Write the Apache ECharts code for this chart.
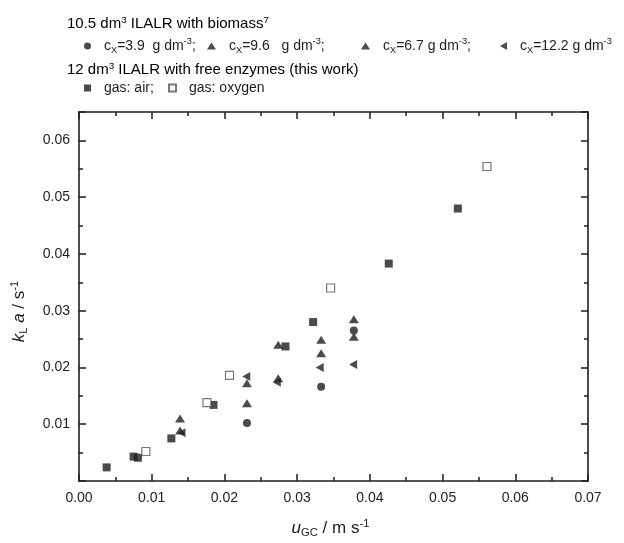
<!DOCTYPE html>
<html>
<head>
<meta charset="utf-8">
<script src="https://cdn.jsdelivr.net/npm/echarts@6/dist/echarts.min.js"></script>
<style>
  html, body { margin: 0; padding: 0; background: #fff; }
  #chart { width: 624px; height: 543px; }
</style>
</head>
<body>
<div id="chart"></div>
<script>
// tick labels
const xTickLabels = ['0.00', '0.01', '0.02', '0.03', '0.04', '0.05', '0.06', '0.07'];
const yTickLabels = ['', '0.01', '0.02', '0.03', '0.04', '0.05', '0.06'];

// 12 dm3 ILALR, free enzymes
const airX = [0.0038, 0.0075, 0.0081, 0.0127, 0.0185, 0.0284, 0.0322, 0.0426, 0.0521];
const airY = [0.0024, 0.0043, 0.0041, 0.0075, 0.0134, 0.0237, 0.0280, 0.0383, 0.0480];
const oxyX = [0.0092, 0.0176, 0.0207, 0.0346, 0.0561];
const oxyY = [0.0052, 0.0138, 0.0186, 0.0340, 0.0554];

// 10.5 dm3 ILALR with biomass
const c39X = [0.0231, 0.0333, 0.0378];
const c39Y = [0.0102, 0.0166, 0.0265];
const c96X = [0.0139, 0.0231, 0.0274, 0.0333, 0.0378];
const c96Y = [0.0110, 0.0172, 0.0240, 0.0249, 0.0285];
const c67X = [0.0139, 0.0231, 0.0274, 0.0333, 0.0378];
const c67Y = [0.0089, 0.0137, 0.0181, 0.0225, 0.0254];
const c122X = [0.0141, 0.0230, 0.0272, 0.0331, 0.0377];
const c122Y = [0.0085, 0.0184, 0.0174, 0.0200, 0.0205];

const pairs = (xs, ys) => xs.map((x, i) => [x, ys[i]]);

const FONT = 'Liberation Sans, Arial, sans-serif';
const INK = '#1e1e1e';
const LEFT_TRI = 'path://M0,5 L9,0 L9,10 Z';

const textRich = (size, lh = 18) => ({
  n: { fontSize: size, fontFamily: FONT, color: INK, lineHeight: lh },
  i: { fontSize: size, fontFamily: FONT, color: INK, fontStyle: 'italic', lineHeight: lh },
  sub: { fontSize: size * 0.66, fontFamily: FONT, color: INK, verticalAlign: 'bottom', lineHeight: lh },
  sup: { fontSize: size * 0.66, fontFamily: FONT, color: INK, verticalAlign: 'top', lineHeight: lh },
});

const legendText = {
  c39: '{n|c}{sub|X}{n|=3.9  g dm}{sup|-3}{n|;}',
  c96: '{n|c}{sub|X}{n|=9.6   g dm}{sup|-3}{n|;}',
  c67: '{n|c}{sub|X}{n|=6.7 g dm}{sup|-3}{n|;}',
  c122: '{n|c}{sub|X}{n|=12.2 g dm}{sup|-3}',
  air: '{n|gas: air;}',
  oxygen: '{n|gas: oxygen}',
};

const legendItems = [
  { name: 'c39', left: 84, top: 37, w: 7, h: 7 },
  { name: 'c96', left: 207, top: 37, w: 9, h: 7 },
  { name: 'c67', left: 361, top: 37, w: 9, h: 7 },
  { name: 'c122', left: 500, top: 37, w: 7, h: 8 },
  { name: 'air', left: 84, top: 81, w: 7, h: 7 },
  { name: 'oxygen', left: 168, top: 81, w: 7, h: 7 },
];

const chart = echarts.init(document.getElementById('chart'));

const axisCommon = {
  min: 0,
  axisLine: { show: true, onZero: false, lineStyle: { color: INK, width: 1.6 } },
  axisTick: { show: true, inside: true, length: 7, lineStyle: { color: INK, width: 1.5 } },
  minorTick: { show: true, splitNumber: 2, length: 4, lineStyle: { color: INK, width: 1.5 } },
  splitLine: { show: false },
  interval: 0.01,
};

chart.setOption({
  animation: false,
  grid: { left: 79, right: 36, top: 112, bottom: 58 },
  legend: legendItems.map((it) => ({
    data: [it.name],
    left: it.left,
    top: it.top,
    padding: 0,
    itemWidth: it.w,
    itemHeight: it.h,
    selectedMode: false,
    formatter: (name) => legendText[name],
    textStyle: { padding: [0, 0, 0, 8], rich: textRich(14) },
  })),
  graphic: [
    {
      type: 'text', left: 67, top: 15,
      style: { text: '{n|10.5 dm}{sup|3}{n| ILALR with biomass}{sup|7}', rich: textRich(15) },
    },
    {
      type: 'text', left: 67, top: 61,
      style: { text: '{n|12 dm}{sup|3}{n| ILALR with free enzymes (this work)}', rich: textRich(15) },
    },
  ],
  xAxis: [
    {
      ...axisCommon,
      type: 'value',
      max: 0.07,
      position: 'bottom',
      name: '{i|u}{sub|GC}{n| / m s}{sup|-1}',
      nameLocation: 'middle',
      nameGap: 37,
      nameTextStyle: { rich: textRich(17, 20), padding: [0, 6, 0, 0] },
      axisLabel: {
        margin: 10, fontSize: 14, fontFamily: FONT, color: INK,
        formatter: (v) => xTickLabels[Math.round(v * 100)] ?? '',
      },
    },
    {
      ...axisCommon,
      type: 'value',
      max: 0.07,
      position: 'top',
      axisLabel: { show: false },
    },
  ],
  yAxis: [
    {
      ...axisCommon,
      type: 'value',
      max: 0.065,
      position: 'left',
      name: '{i|k}{sub|L}{i| a}{n| / s}{sup|-1}',
      nameLocation: 'middle',
      nameGap: 50,
      nameTextStyle: { rich: textRich(17, 20), padding: [0, 30, 0, 0] },
      axisLabel: {
        margin: 9, fontSize: 14, fontFamily: FONT, color: INK,
        formatter: (v) => {
          const k = Math.round(v * 100);
          return Math.abs(v * 100 - k) < 1e-6 ? (yTickLabels[k] ?? '') : '';
        },
      },
    },
    {
      ...axisCommon,
      type: 'value',
      max: 0.065,
      position: 'right',
      axisLabel: { show: false },
    },
  ],
  series: [
    {
      name: 'c39', type: 'scatter', symbol: 'circle', symbolSize: 8,
      itemStyle: { color: INK }, data: pairs(c39X, c39Y),
    },
    {
      name: 'c96', type: 'scatter', symbol: 'triangle', symbolSize: [10, 8],
      itemStyle: { color: INK }, data: pairs(c96X, c96Y),
    },
    {
      name: 'c67', type: 'scatter', symbol: 'triangle', symbolSize: [10, 8],
      itemStyle: { color: INK }, data: pairs(c67X, c67Y),
    },
    {
      name: 'c122', type: 'scatter', symbol: LEFT_TRI, symbolSize: [8, 9],
      itemStyle: { color: INK }, data: pairs(c122X, c122Y),
    },
    {
      name: 'air', type: 'scatter', symbol: 'rect', symbolSize: 8,
      itemStyle: { color: INK }, data: pairs(airX, airY),
    },
    {
      name: 'oxygen', type: 'scatter', symbol: 'rect', symbolSize: 8,
      itemStyle: { color: '#fff', borderColor: '#555', borderWidth: 1.2 }, data: pairs(oxyX, oxyY),
    },
  ],
});
</script>
</body>
</html>
